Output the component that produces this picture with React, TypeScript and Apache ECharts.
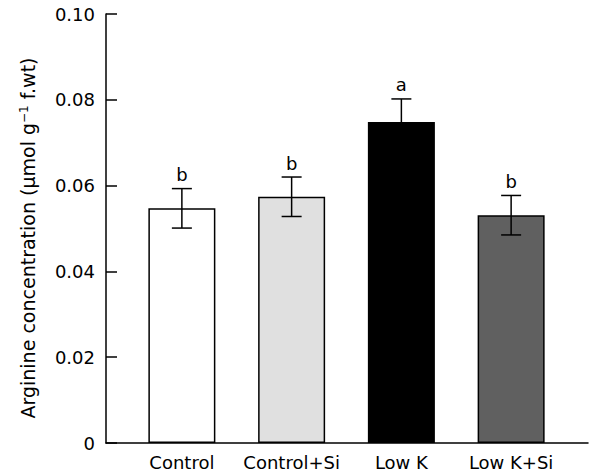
import React, { useEffect, useRef } from 'react';
import * as echarts from 'echarts';

const categories = ['Control', 'Control+Si', 'Low K', 'Low K+Si'];
const means = [0.0547, 0.0574, 0.0748, 0.0531];
const errors = [0.0046, 0.0046, 0.0054, 0.0046];
const letters = ['b', 'b', 'a', 'b'];
const barColors = ['#ffffff', '#e0e0e0', '#000000', '#606060'];
const yMin = 0;
const yMax = 0.1;
const yStep = 0.02;
const yTitle = 'Arginine concentration (µmol g{sup|−1} f.wt)';

const FONT = 'DejaVu Sans';

export default function App() {
  const ref = useRef<HTMLDivElement>(null);
  useEffect(() => {
    if (!ref.current) return;
    const chart = echarts.init(ref.current, undefined, { renderer: 'svg' });
    const top = 14;
    const bottom = 33;
    chart.setOption({
      animation: false,
      backgroundColor: '#ffffff',
      grid: [
        { left: 127, right: 23, top, bottom },
        { left: 106, right: 1, top, bottom },
      ],
      graphic: [
        {
          type: 'text',
          x: 28,
          y: 238,
          rotation: Math.PI / 2,
          style: {
            text: yTitle,
            fill: '#000',
            fontSize: 19,
            fontFamily: FONT,
            align: 'center',
            verticalAlign: 'middle',
            rich: {
              sup: { fontSize: 12, fontFamily: FONT, fill: '#000', verticalAlign: 'top', padding: [0, 0, 8, 0] },
            },
          },
        },
      ],
      xAxis: [
        {
          type: 'category',
          gridIndex: 0,
          data: categories,
          axisLine: { show: false },
          axisTick: { show: false },
          axisLabel: { interval: 0, margin: 10, color: '#000', fontSize: 18, fontFamily: FONT },
        },
        {
          type: 'value',
          gridIndex: 1,
          min: 0,
          max: 1,
          axisLine: { show: true, onZero: false, lineStyle: { color: '#000', width: 1.5 } },
          axisTick: { show: false },
          axisLabel: { show: false },
          splitLine: { show: false },
        },
      ],
      yAxis: [
        {
          type: 'value',
          gridIndex: 0,
          min: yMin,
          max: yMax,
          interval: yStep,
          show: false,
        },
        {
          type: 'value',
          gridIndex: 1,
          min: yMin,
          max: yMax,
          interval: yStep,
          axisLine: { show: true, lineStyle: { color: '#000', width: 1.5 } },
          axisTick: { show: true, inside: true, length: 11, lineStyle: { color: '#000', width: 1.5 } },
          axisLabel: {
            margin: 11,
            color: '#000',
            fontSize: 18,
            fontFamily: FONT,
            formatter: (v: number) => (v === 0 ? '0' : v.toFixed(2)),
          },
          splitLine: { show: false },
        },
      ],
      series: [
        {
          type: 'bar',
          xAxisIndex: 0,
          yAxisIndex: 0,
          barWidth: 67,
          data: means.map((m, i) => ({
            value: m,
            itemStyle: { color: barColors[i], borderColor: '#000', borderWidth: 1.5 },
          })),
        },
        {
          type: 'custom',
          xAxisIndex: 0,
          yAxisIndex: 0,
          data: means.map((m, i) => [i, m, errors[i]]),
          encode: { x: 0, y: 1 },
          z: 10,
          renderItem: (params: any, api: any) => {
            const i = api.value(0);
            const m = api.value(1);
            const e = api.value(2);
            const t = api.coord([i, m + e]);
            const b = api.coord([i, m - e]);
            const hw = 10;
            const style = { stroke: '#000', lineWidth: 1.5 };
            return {
              type: 'group',
              children: [
                { type: 'line', shape: { x1: t[0], y1: t[1], x2: b[0], y2: b[1] }, style },
                { type: 'line', shape: { x1: t[0] - hw, y1: t[1], x2: t[0] + hw, y2: t[1] }, style },
                { type: 'line', shape: { x1: b[0] - hw, y1: b[1], x2: b[0] + hw, y2: b[1] }, style },
                {
                  type: 'text',
                  x: t[0],
                  y: t[1] - 5,
                  style: {
                    text: letters[params.dataIndex],
                    fill: '#000',
                    fontSize: 18,
                    fontFamily: FONT,
                    align: 'center',
                    verticalAlign: 'bottom',
                  },
                },
              ],
            };
          },
        },
      ],
    });
    return () => chart.dispose();
  }, []);
  return <div ref={ref} style={{ position: 'fixed', left: 0, top: 0, width: 589, height: 476 }} />;
}
